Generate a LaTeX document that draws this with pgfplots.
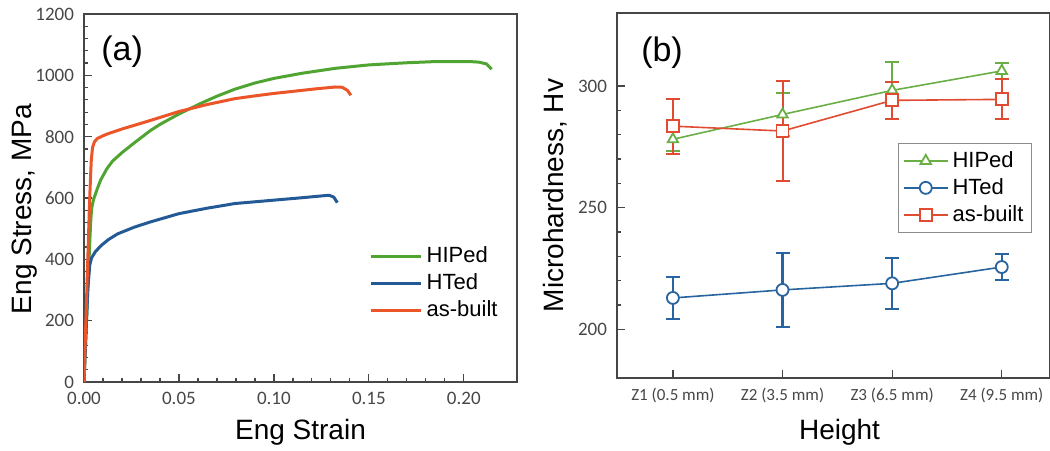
\documentclass[border=0pt]{standalone}
\usepackage{fontspec}
\setmainfont{Liberation Sans}
\newfontfamily\tickfont{Carlito}
\usepackage{pgfplots}
\pgfplotsset{compat=1.18}

\definecolor{cgreen}{RGB}{80,165,50}
\definecolor{cblue}{RGB}{35,90,150}
\definecolor{cred}{RGB}{235,85,40}
\definecolor{rgreen}{RGB}{105,175,70}
\definecolor{rblue}{RGB}{40,100,160}
\definecolor{rred}{RGB}{225,75,50}
\definecolor{axgray}{RGB}{70,70,70}

\pgfplotsset{
  panel/.style={
    scale only axis, anchor=south west,
    axis line style={axgray, line width=0.8pt},
    tick style={axgray, line width=0.6pt},
    tick align=inside, xtick pos=bottom, ytick pos=left,
    major tick length=4pt, minor tick length=2pt,
    tick label style={font=\tickfont\fontsize{9.5}{10}\selectfont, text=black!72},
    yticklabel style={xshift=-1.5pt},
    xticklabel style={yshift=-1.5pt},
    label style={font=\fontsize{14}{16}\selectfont},
    /pgf/number format/assume math mode=true,
  }
}

\begin{document}
\begin{tikzpicture}
\useasboundingbox (0,0) rectangle (525pt,225pt);

% (a) tensile curves
\begin{axis}[panel,
  at={(42pt,34pt)}, width=216.5pt, height=184pt,
  xmin=0, xmax=0.228, ymin=0, ymax=1200,
  xtick={0,0.05,0.10,0.15,0.20}, minor x tick num=4,
  ytick={0,200,...,1200}, minor y tick num=4,
  xticklabel style={/pgf/number format/.cd, fixed, fixed zerofill, precision=2},
  yticklabel style={/pgf/number format/1000 sep={}},
  xlabel={Eng Strain}, ylabel={Eng Stress, MPa},
  xlabel style={at={(axis description cs:0.5,-0.136)}, anchor=center},
  ylabel style={at={(axis description cs:-0.136,0.47)}, anchor=center},
  legend style={draw=none, fill=none, at={(axis description cs:0.645,0.39)}, anchor=north west,
    font=\fontsize{11}{13.5}\selectfont, row sep=0pt},
  legend cell align=left,
  legend image code/.code={\draw[#1] (0pt,0pt) -- (25pt,0pt);},
  every axis plot/.append style={line width=1.5pt, line join=round},
]
\addplot[cgreen] coordinates {
 (0,0) (0.001,150) (0.002,300) (0.003,450) (0.0035,520) (0.004,565) (0.005,595)
 (0.007,630) (0.0088,659) (0.012,695) (0.015,720) (0.02,748) (0.0265,780)
 (0.035,820) (0.04,840) (0.05,874) (0.062,910) (0.07,932) (0.0795,955)
 (0.09,975) (0.10,990) (0.115,1007) (0.1325,1023) (0.15,1034) (0.17,1041)
 (0.1855,1045) (0.203,1045) (0.208,1043) (0.212,1037) (0.2147,1020)
};
\addlegendentry{HIPed}
\addplot[cblue] coordinates {
 (0,0) (0.001,150) (0.002,300) (0.003,380) (0.004,405) (0.006,425) (0.009,445)
 (0.013,465) (0.0177,483) (0.0265,505) (0.035,522) (0.05,549) (0.065,567)
 (0.0795,582) (0.10,593) (0.115,601) (0.1237,606) (0.129,609) (0.1315,603) (0.1334,585)
};
\addlegendentry{HTed}
\addplot[cred] coordinates {
 (0,0) (0.001,200) (0.002,400) (0.003,600) (0.0038,720) (0.0045,765) (0.0055,783)
 (0.007,794) (0.01,803) (0.0124,809) (0.02,825) (0.0265,837) (0.035,853)
 (0.05,882) (0.065,905) (0.0795,924) (0.09,933) (0.10,941) (0.1237,957)
 (0.1325,962) (0.136,961) (0.1387,951) (0.1405,935)
};
\addlegendentry{as-built}
\node[font=\fontsize{17}{19}\selectfont] at (axis description cs:0.088,0.897) {(a)};
\end{axis}

% (b) microhardness
\begin{axis}[panel,
  at={(308.5pt,36pt)}, width=216.5pt, height=182.5pt,
  xmin=-0.51, xmax=3.44, ymin=180, ymax=330,
  xtick={0,1,2,3},
  xticklabels={Z1 (0.5 mm), Z2 (3.5 mm), Z3 (6.5 mm), Z4 (9.5 mm)},
  xticklabel style={font=\tickfont\fontsize{8.5}{10}\selectfont},
  ytick={200,250,300}, minor y tick num=4,
  xlabel={Height}, ylabel={Microhardness, Hv},
  xlabel style={at={(axis description cs:0.514,-0.148)}, anchor=center},
  ylabel style={at={(axis description cs:-0.143,0.5)}, anchor=center},
  legend style={draw=black!45, line width=0.5pt, fill=white, at={(axis description cs:0.65,0.644)}, anchor=north west,
    font=\fontsize{11}{13}\selectfont, inner sep=2pt},
  legend cell align=left,
  legend image code/.code={%
    \draw[#1, mark repeat=2, mark phase=2] plot coordinates {(0pt,0pt) (11pt,0pt) (22pt,0pt)};},
  every axis plot/.append style={line width=0.8pt, mark size=3pt, mark options={solid, fill=white, line width=0.9pt}},
  error bars/error bar style={line width=1pt},
  error bars/error mark options={rotate=90, mark size=3.5pt, line width=1pt},
]
\addplot[rgreen, mark=triangle*, error bars/.cd, y dir=both, y explicit] coordinates {
 (0,278.1) +- (0,5)
 (1,288.3) +- (0,9)
 (2,298.2) +- (0,11.7)
 (3,306.2) +- (0,3.4)
};
\addlegendentry{HIPed}
\addplot[rblue, mark=*, error bars/.cd, y dir=both, y explicit,
  error bar style={line width=1.2pt}] coordinates {
 (0,212.9) +- (0,8.6)
 (1,216.2) +- (0,15.1)
 (2,218.9) +- (0,10.5)
 (3,225.6) +- (0,5.2)
};
\addlegendentry{HTed}
\addplot[rred, mark=square*, error bars/.cd, y dir=both, y explicit] coordinates {
 (0,283.5) +- (0,11.3)
 (1,281.5) +- (0,20.7)
 (2,294.1) +- (0,7.7)
 (3,294.5) +- (0,8.2)
};
\addlegendentry{as-built}
\node[font=\fontsize{17}{19}\selectfont] at (axis description cs:0.104,0.89) {(b)};
\end{axis}
\end{tikzpicture}
\end{document}
